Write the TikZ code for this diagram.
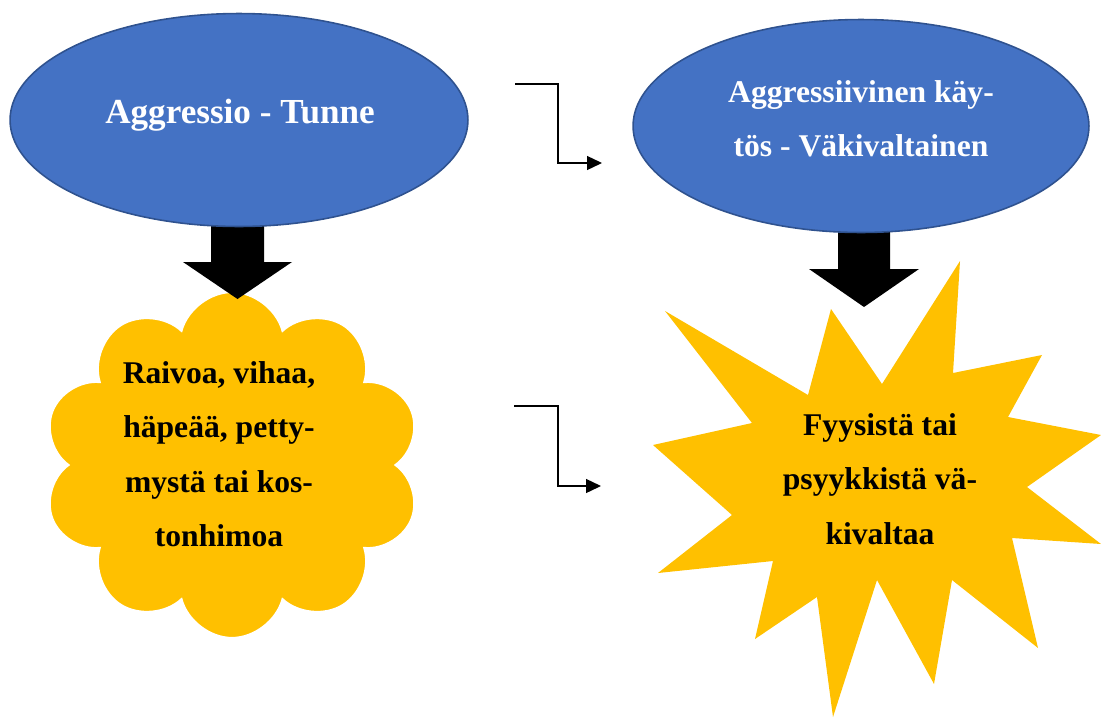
\documentclass[tikz,border=0pt]{standalone}
\usepackage{fontspec}
\setmainfont{Liberation Serif}
\usetikzlibrary{arrows.meta,positioning,shapes.geometric,shapes.symbols}

\definecolor{ovalblue}{HTML}{4472C4}
\definecolor{ovaledge}{HTML}{2F528F}
\definecolor{burstgold}{HTML}{FFC000}

\begin{document}
\begin{tikzpicture}[
  x=0.02cm, y=-0.02cm,
  oval/.style={ellipse,draw=ovaledge,line width=0.9pt,fill=ovalblue,inner sep=0pt},
  ovaltxt/.style={text=white,font=\fontsize{18}{31}\selectfont\bfseries,align=center},
  puffy/.style={cloud,cloud puffs=10,cloud puff arc=150,draw=white,line width=1.2pt,
                fill=burstgold,inner sep=0pt,minimum width=7.56cm,minimum height=6.92cm},
  bodytxt/.style={font=\fontsize{18}{31}\selectfont\bfseries,align=center},
  blockarrow/.style={fill=black},
  elbow/.style={line width=0.75pt,-{Triangle[length=0.3cm,width=0.28cm]}},
]
  \useasboundingbox (0,0) rectangle (1101,717);

  % Cloud of feelings
  \node[puffy] (feel) at (232,465) {};
  \node[bodytxt] (feeltxt) at (219,454)
    {Raivoa, vihaa,\\häpeää, petty-\\mystä tai kos-\\tonhimoa};

  % Starburst of violence
  \fill[burstgold] (665,311) -- (808,395) -- (831,309) -- (882,384) -- (960,261)
    -- (953,373) -- (1042,355) -- (1008,417) -- (1101,435) -- (1027,487)
    -- (1101,544) -- (1012,538) -- (1038,648) -- (952,580) -- (934,684)
    -- (877,580) -- (833,717) -- (817,597) -- (755,639) -- (773,561)
    -- (658,573) -- (732,515) -- (653,445) -- (752,423) -- cycle;
  \node[bodytxt] (burst) at (880,479)
    {Fyysistä tai\\psyykkistä vä-\\kivaltaa};

  % Block arrows
  \fill[blockarrow] (211,210) -- (264,210) -- (264,262) -- (292,262) -- (237.5,299)
    -- (183,262) -- (211,262) -- cycle;
  \fill[blockarrow] (838,220) -- (890,220) -- (890,269) -- (919,269) -- (864,307)
    -- (809,269) -- (838,269) -- cycle;

  % Ovals
  \node[oval,minimum width=9.16cm,minimum height=4.26cm] (tunne) at (239,120) {};
  \node[ovaltxt,font=\fontsize{20}{31}\selectfont\bfseries,anchor=base]
    (tunnetxt) at (240,123) {Aggressio - Tunne};
  \node[oval,minimum width=9.12cm,minimum height=4.26cm] (kaytos) at (861,126) {};
  \node[ovaltxt] (kaytostxt) at (861,119)
    {Aggressiivinen käy-\\tös - Väkivaltainen};

  % Elbow connectors
  \coordinate (topfrom) at (515,84);
  \coordinate (topbend) at (558,120);
  \coordinate (topto)   at (602,163);
  \draw[elbow] (topfrom) -| (topbend) |- (topto);

  \coordinate (lowfrom) at (514,406);
  \coordinate (lowbend) at (558,440);
  \coordinate (lowto)   at (601,486);
  \draw[elbow] (lowfrom) -| (lowbend) |- (lowto);
\end{tikzpicture}
\end{document}
